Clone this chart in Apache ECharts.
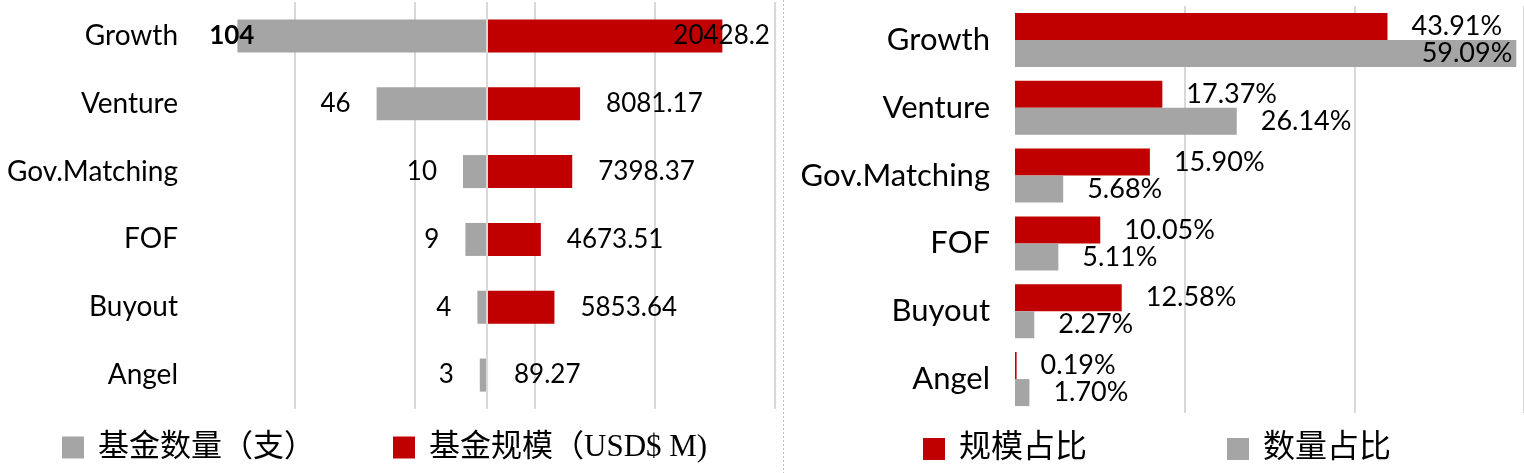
<!DOCTYPE html>
<html>
<head>
<meta charset="utf-8">
<script src="https://cdn.jsdelivr.net/npm/echarts@6/dist/echarts.min.js"></script>
<style>
html,body{margin:0;padding:0;background:#fff;}
#chart{width:1524px;height:473px;}
</style>
</head>
<body>
<div id="chart"></div>
<script>
const categories = ['Growth', 'Venture', 'Gov.Matching', 'FOF', 'Buyout', 'Angel'];
const fundCount = [104, 46, 10, 9, 4, 3];
const fundSize = [20428.2, 8081.17, 7398.37, 4673.51, 5853.64, 89.27];
const sizeShare = [43.91, 17.37, 15.90, 10.05, 12.58, 0.19];
const countShare = [59.09, 26.14, 5.68, 5.11, 2.27, 1.70];

const countName = '基金数量（支）';
const sizeName = '基金规模（USD$ M)';
const sizeShareName = '规模占比';
const countShareName = '数量占比';

const RED = '#c00000';
const GREY = '#a5a5a5';
const GRID_LINE = '#d9d9d9';
const FONT = 'Lato, "Noto Sans", sans-serif';
const LEGEND_FONT = '"Liberation Serif", "Noto Sans CJK SC", serif';

const chart = echarts.init(document.getElementById('chart'));

const countData = fundCount.map((v, i) => i === 0
  ? { value: v, label: { fontWeight: 'bold', offset: [43, 0] } }
  : v);
const sizeData = fundSize.map((v, i) => i === 0
  ? { value: v, label: { offset: [-75, 0] } }
  : v);
const countShareData = countShare.map((v, i) => i === 0
  ? { value: v, label: { position: 'insideRight', distance: 4 } }
  : v);

const pct = p => p.value.toFixed(2) + '%';

const hiddenAxis = {
  axisLabel: { show: false }, axisLine: { show: false }, axisTick: { show: false }
};

chart.setOption({
  animation: false,
  backgroundColor: '#fff',
  grid: [
    { left: 199, right: 1524 - 775, top: 2, height: 407 },
    { left: 1015, right: -4, top: 6, height: 407 }
  ],
  xAxis: [
    Object.assign({
      type: 'value', gridIndex: 0, inverse: true, min: -120, max: 120, interval: 50,
      splitLine: { show: true, showMaxLine: false, showMinLine: true, lineStyle: { color: GRID_LINE, width: 2 } }
    }, hiddenAxis),
    Object.assign({
      type: 'value', gridIndex: 0, position: 'top', min: -25000, max: 25000,
      splitLine: { show: false }
    }, hiddenAxis),
    Object.assign({
      type: 'value', gridIndex: 1, min: 0, max: 60, interval: 20,
      splitLine: { show: true, showMinLine: false, lineStyle: { color: GRID_LINE, width: 2 } }
    }, hiddenAxis)
  ],
  yAxis: [
    {
      type: 'category', gridIndex: 0, inverse: true, data: categories,
      axisLine: { show: false }, axisTick: { show: false },
      axisLabel: { margin: 21, fontSize: 28, color: '#000', fontFamily: FONT }
    },
    {
      type: 'category', gridIndex: 1, inverse: true, data: categories,
      axisLine: { show: false }, axisTick: { show: false },
      axisLabel: { margin: 25, fontSize: 31, color: '#000', fontFamily: FONT }
    }
  ],
  legend: [
    {
      data: [countName, sizeName], left: 62, top: 432, padding: 0,
      itemWidth: 22, itemHeight: 22, itemGap: 78,
      icon: 'rect', selectedMode: false,
      textStyle: { fontSize: 31, color: '#000', fontFamily: LEGEND_FONT, padding: [0, 0, 0, 9] }
    },
    {
      data: [sizeShareName, countShareName], left: 923, top: 433, padding: 0,
      itemWidth: 22, itemHeight: 22, itemGap: 140,
      icon: 'rect', selectedMode: false,
      textStyle: { fontSize: 32, color: '#000', fontFamily: LEGEND_FONT, padding: [0, 0, 0, 9] }
    }
  ],
  graphic: [
    {
      type: 'line', silent: true,
      shape: { x1: 783.5, y1: 0, x2: 783.5, y2: 473 },
      style: { stroke: '#bfbfbf', lineWidth: 1, lineDash: [2, 2] }
    }
  ],
  series: [
    {
      name: countName, type: 'bar', xAxisIndex: 0, yAxisIndex: 0,
      data: countData, barWidth: 33, barGap: '-100%',
      itemStyle: { color: GREY },
      label: { show: true, position: 'left', distance: 26, fontSize: 26, color: '#000', fontFamily: FONT },
      markLine: {
        silent: true, symbol: 'none', label: { show: false },
        lineStyle: { color: GRID_LINE, width: 2, type: 'solid' },
        data: [{ xAxis: 0 }]
      }
    },
    {
      name: sizeName, type: 'bar', xAxisIndex: 1, yAxisIndex: 0,
      data: sizeData, barWidth: 33, barGap: '-100%',
      itemStyle: { color: RED },
      label: { show: true, position: 'right', distance: 26, fontSize: 26, color: '#000', fontFamily: FONT }
    },
    {
      name: sizeShareName, type: 'bar', xAxisIndex: 2, yAxisIndex: 1,
      data: sizeShare, barWidth: 27, barGap: '0%',
      itemStyle: { color: RED },
      label: { show: true, position: 'right', distance: 24, fontSize: 27, color: '#000', fontFamily: FONT, formatter: pct }
    },
    {
      name: countShareName, type: 'bar', xAxisIndex: 2, yAxisIndex: 1,
      data: countShareData, barWidth: 27, barGap: '0%',
      itemStyle: { color: GREY },
      label: { show: true, position: 'right', distance: 24, fontSize: 27, color: '#000', fontFamily: FONT, formatter: pct }
    }
  ]
});
</script>
</body>
</html>
